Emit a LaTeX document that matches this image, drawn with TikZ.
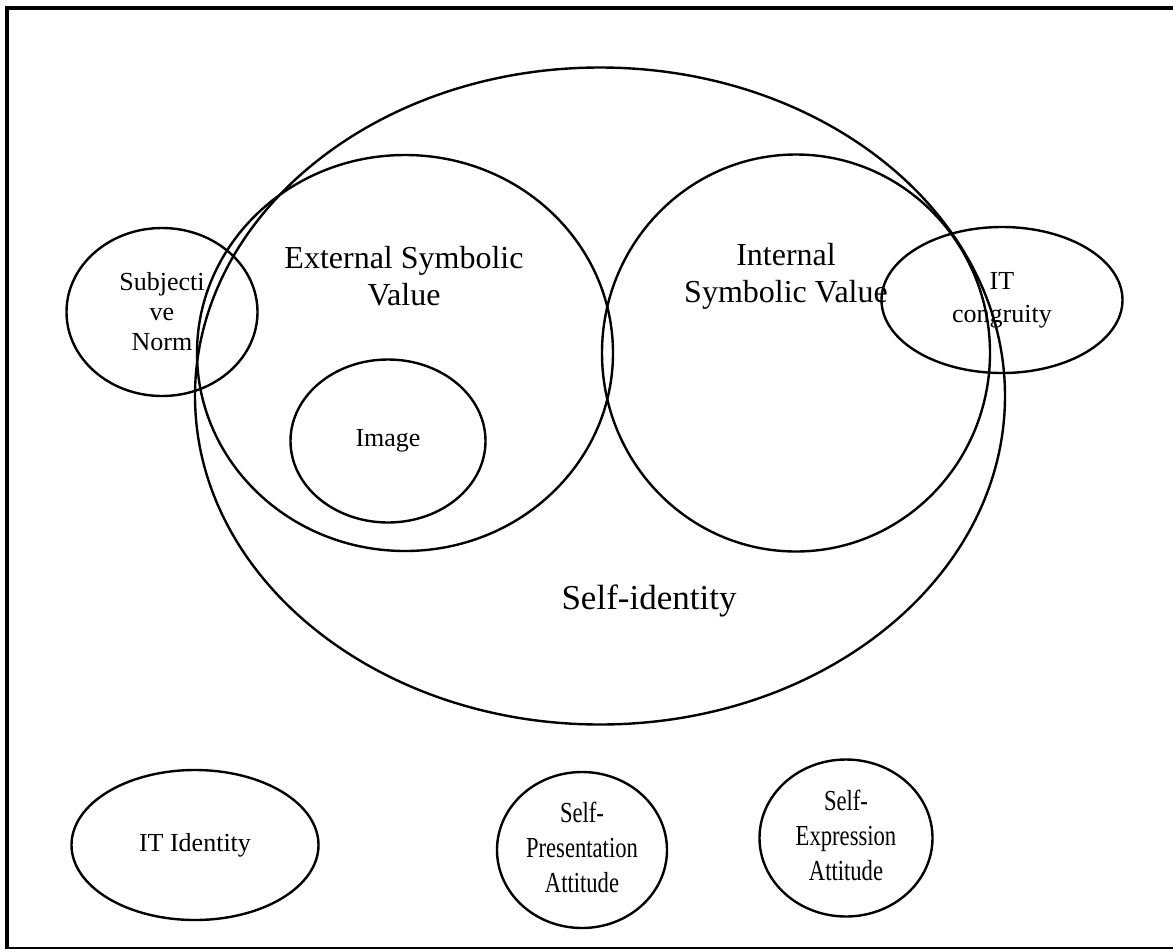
\documentclass[tikz,border=0pt]{standalone}
\usepackage{fontspec}
\setmainfont{Liberation Serif}
\usetikzlibrary{shapes.geometric}
\newcommand{\narrowtext}[1]{\scalebox{0.78}[1]{\begin{tabular}{@{}c@{}}#1\end{tabular}}}

\begin{document}
\begin{tikzpicture}[x=1pt, y=-1pt,
  oval/.style={draw, ellipse, line width=2.4pt, inner sep=0pt, align=center},
  small/.style={font=\fontsize{26}{30}\selectfont},
  big/.style={font=\fontsize{32}{37}\selectfont, align=center, inner sep=0pt}]
\useasboundingbox (0,0) rectangle (1173,951);
% ---- frame ----
\draw[line width=4pt] (1173,8) -- (7,8) -- (7,949);
\draw[line width=2pt] (6,948) -- (1173,948);
% ---- self-identity and its parts ----
\node[oval, minimum width=810pt, minimum height=657pt] (self) at (600,396) {};
\node[oval, minimum width=416pt, minimum height=396pt] (ext) at (405,353) {};
\node[oval, minimum width=388pt, minimum height=397pt] (int) at (796,353) {};
\node[oval, small, minimum width=195pt, minimum height=163pt] (img) at (388,441) {Image};
\node[big] (extlab) at (404,276) {External Symbolic\\Value};
\node[big] (intlab) at (786,276) {Internal\\Symbolic Value};
\node[font=\fontsize{35}{40}\selectfont, inner sep=0pt] (selflab) at (649,601) {Self-identity};
% ---- overlapping ovals ----
\node[oval, small, minimum width=191pt, minimum height=168pt] (norm) at (162,312) {Subjecti\\ve\\Norm};
\node[oval, small, minimum width=241pt, minimum height=146pt, font=\fontsize{26}{33}\selectfont] (cong) at (1002,300) {IT\\congruity};
% ---- bottom row ----
\node[oval, small, minimum width=247pt, minimum height=150pt] (itid) at (195,845) {IT Identity};
\node[oval, font=\fontsize{29}{35}\selectfont, minimum width=170pt, minimum height=156pt] (pres) at (582,850)
  {\narrowtext{Self-\\Presentation\\Attitude}};
\node[oval, font=\fontsize{29}{35}\selectfont, minimum width=173pt, minimum height=157pt] (expr) at (846,838)
  {\narrowtext{Self-\\Expression\\Attitude}};
\end{tikzpicture}
\end{document}
